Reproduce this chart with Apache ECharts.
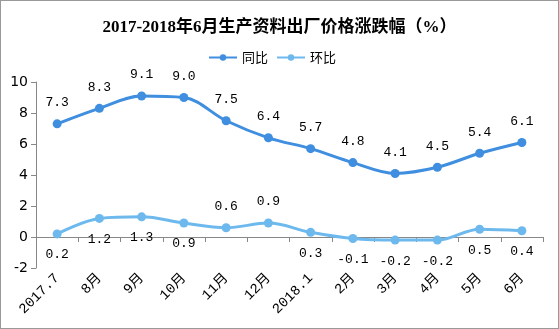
<!DOCTYPE html>
<html><head><meta charset="utf-8">
<script src="https://cdn.jsdelivr.net/npm/echarts@6/dist/echarts.min.js"></script>
<style>html,body{margin:0;padding:0;background:#fff}#c{width:559px;height:329px;box-sizing:border-box;border:1px solid #999}</style>
</head><body><div id="c"></div>
<script>
const categories = ['2017.7','8月','9月','10月','11月','12月','2018.1','2月','3月','4月','5月','6月'];
const yoy = [7.3, 8.3, 9.1, 9.0, 7.5, 6.4, 5.7, 4.8, 4.1, 4.5, 5.4, 6.1];
const mom = [0.2, 1.2, 1.3, 0.9, 0.6, 0.9, 0.3, -0.1, -0.2, -0.2, 0.5, 0.4];
const momAbove = [4, 5];

const chart = echarts.init(document.getElementById('c'));
const labFont = {fontFamily: 'Liberation Mono, DejaVu Sans Mono, monospace', fontSize: 13, color: '#000',
  formatter: p => Number(p.value).toFixed(1)};
chart.setOption({
  animation: false,
  title: {text: '2017-2018年6月生产资料出厂价格涨跌幅（%）', left: 'center', top: 13,
    textStyle: {fontFamily: 'Liberation Serif, Noto Sans CJK SC, serif', fontSize: 17, fontWeight: 'bold', color: '#000'}},
  legend: {top: 45, left: 202, itemWidth: 28, itemHeight: 8, itemGap: 8,
    textStyle: {fontFamily: 'Noto Sans CJK SC', fontSize: 13, color: '#000'},
    data: ['同比', '环比']},
  grid: {left: 35, right: 15, top: 81, bottom: 60},
  xAxis: {type: 'category', data: categories, boundaryGap: true,
    axisLine: {lineStyle: {color: '#888'}},
    axisTick: {show: true, length: 5, lineStyle: {color: '#888'}},
    axisLabel: {rotate: 45, color: '#000', fontSize: 14, margin: 8, fontFamily: 'Liberation Mono, Noto Sans CJK SC, monospace'}},
  yAxis: {type: 'value', min: -2, max: 10, interval: 2,
    axisLine: {show: true, lineStyle: {color: '#888'}},
    axisTick: {show: true, length: 5, lineStyle: {color: '#888'}},
    splitLine: {show: false},
    axisLabel: {color: '#000', fontSize: 14, margin: 8, fontFamily: 'DejaVu Sans, sans-serif'}},
  series: [
    {name: '同比', type: 'line', smooth: 0.35, data: yoy, symbol: 'circle', symbolSize: 9,
     color: '#3F8EDF', lineStyle: {width: 3},
     label: Object.assign({show: true, position: 'top', distance: 10}, labFont)},
    {name: '环比', type: 'line', smooth: 0.35, symbol: 'circle', symbolSize: 9,
     color: '#6DB9EE', lineStyle: {width: 3},
     data: mom.map((v, i) => ({value: v, label: {position: momAbove.includes(i) ? 'top' : 'bottom'}})),
     label: Object.assign({show: true, position: 'bottom', distance: 10}, labFont)}
  ]
});
</script></body></html>
